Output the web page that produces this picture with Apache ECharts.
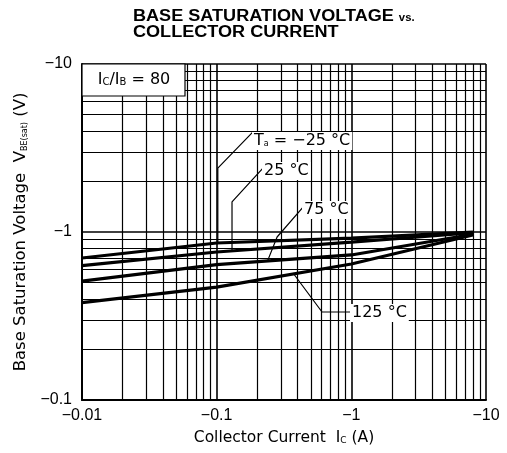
<!DOCTYPE html>
<html>
<head>
<meta charset="utf-8">
<script src="https://cdn.jsdelivr.net/npm/echarts@6/dist/echarts.min.js"></script>
<style>html,body{margin:0;padding:0;background:#fff}#c{width:507px;height:453px}</style>
</head>
<body>
<div id="c"></div>
<script>
// Collector current Ic (A) and base saturation voltage VBE(sat) (V)
const currentA = [-0.01, -0.1, -1, -8];
const vbeMinus25 = [-0.70, -0.86, -0.92, -1.00];
const vbe25 = [-0.63, -0.76, -0.87, -0.99];
const vbe75 = [-0.51, -0.64, -0.73, -0.97];
const vbe125 = [-0.38, -0.47, -0.645, -0.96];
const seriesNames = ['Ta = -25 °C', '25 °C', '75 °C', '125 °C'];
const xTickLabels = ['−0.01', '−0.1', '−1', '−10'];
const yTickLabels = ['−0.1', '−1', '−10'];

// annotation leader lines (data space, magnitudes)
const leaders = [
  [[0.186, 3.94], [0.102, 2.40], [0.102, 0.86]],
  [[0.225, 2.44], [0.130, 1.51], [0.130, 0.78]],
  [[0.453, 1.45], [0.281, 0.934], [0.240, 0.68]],
  [[0.369, 0.57], [0.606, 0.334], [0.978, 0.334]]
];

const FONT = '"Liberation Sans", Arial, sans-serif';
const WIDE = '"DejaVu Sans", sans-serif';
const toPts = (ys) => currentA.map((x, i) => [Math.abs(x), Math.abs(ys[i])]);
const allY = [vbeMinus25, vbe25, vbe75, vbe125];

const xMinor = [], yMinor = [];
[0.01, 0.1, 1].forEach(d => { for (let k = 2; k <= 9; k++) xMinor.push(+(k * d).toPrecision(3)); });
[0.1, 1].forEach(d => { for (let k = 2; k <= 9; k++) yMinor.push(+(k * d).toPrecision(3)); });

const fmtX = v => { const m = {0.01:0,0.1:1,1:2,10:3}; const i = m[+v.toPrecision(3)]; return i === undefined ? '' : xTickLabels[i]; };
const fmtY = v => { const m = {0.1:0,1:1,10:2}; const i = m[+v.toPrecision(3)]; return i === undefined ? '' : yTickLabels[i]; };

const series = [];
series.push({
  type: 'line', data: [], silent: true, z: 1,
  markLine: {
    silent: true, symbol: 'none', animation: false,
    label: { show: false },
    lineStyle: { color: '#000', width: 1.2, type: 'solid' },
    data: xMinor.map(v => ({ xAxis: v })).concat(yMinor.map(v => ({ yAxis: v })))
  }
});
allY.forEach((ys, i) => {
  series.push({
    name: seriesNames[i], type: 'line', data: toPts(ys), showSymbol: false, symbol: 'none',
    lineStyle: { color: '#000', width: 3.2 }, z: 5, animation: false
  });
});
leaders.forEach(l => {
  series.push({
    type: 'line', data: l, showSymbol: false, symbol: 'none', silent: true,
    lineStyle: { color: '#000', width: 1.2 }, z: 6, animation: false
  });
});

const chart = echarts.init(document.getElementById('c'), null, { renderer: 'canvas' });
chart.setOption({
  backgroundColor: '#fff',
  animation: false,
  textStyle: { fontFamily: FONT },
  grid: { left: 82, top: 64, right: 21, bottom: 53 },
  xAxis: {
    type: 'log', logBase: 10, min: 0.01, max: 10,
    name: 'Collector Current  I{s|C} (A)', nameLocation: 'middle', nameGap: 30,
    nameTextStyle: { fontFamily: WIDE, fontSize: 15.5, color: '#000',
      rich: { s: { fontFamily: WIDE, fontSize: 9, color: '#000', padding: [6, 0, 0, 0] } } },
    axisLine: { show: true, lineStyle: { color: '#000', width: 2 } },
    axisTick: { show: false },
    axisLabel: { formatter: fmtX, fontFamily: FONT, fontSize: 16, color: '#000', margin: 8 },
    splitLine: { show: true, lineStyle: { color: '#000', width: 1.6 } },
    minorTick: { show: false }, minorSplitLine: { show: false }
  },
  yAxis: {
    type: 'log', logBase: 10, min: 0.1, max: 10,
    name: 'Base Saturation Voltage  V{s|BE(sat)} (V)', nameLocation: 'middle', nameGap: 51, nameRotate: 90,
    nameTextStyle: { fontFamily: WIDE, fontSize: 16.5, color: '#000',
      rich: { s: { fontFamily: WIDE, fontSize: 8, color: '#000', padding: [7, 0, 0, 0] } } },
    axisLine: { show: true, lineStyle: { color: '#000', width: 2 } },
    axisTick: { show: false },
    axisLabel: { formatter: fmtY, fontFamily: FONT, fontSize: 16, color: '#000', margin: 10 },
    splitLine: { show: true, lineStyle: { color: '#000', width: 1.6 } },
    minorTick: { show: false }, minorSplitLine: { show: false }
  },
  series: series,
  graphic: [
    { type: 'text', z: 101, x: 133, y: 9, scaleX: 1.13, scaleY: 1,
      style: { text: 'BASE SATURATION VOLTAGE {s|vs.}\nCOLLECTOR CURRENT', fontFamily: FONT, fontSize: 16, fontWeight: 'bold',
        fill: '#000', lineHeight: 16,
        rich: { s: { fontFamily: FONT, fontSize: 10, fontWeight: 'bold', fill: '#000', padding: [3, 0, 0, 0] } } } },
    { type: 'rect', z: 100, shape: { x: 82, y: 64, width: 103, height: 32 },
      style: { fill: '#fff', stroke: '#000', lineWidth: 1.2 } },
    { type: 'text', z: 101, x: 134, y: 80,
      style: { text: 'I{s|C}/I{s|B} = 80', fontFamily: WIDE, fontSize: 16, fill: '#000', align: 'center', verticalAlign: 'middle',
        rich: { s: { fontFamily: WIDE, fontSize: 10, fill: '#000', padding: [5, 0, 0, 0] } } } },
    { type: 'text', z: 101, x: 252, y: 141,
      style: { text: 'T{s|a} = −25 °C', fontFamily: WIDE, fontSize: 16, fill: '#000', verticalAlign: 'middle',
        backgroundColor: '#fff', padding: [1, 2],
        rich: { s: { fontFamily: WIDE, fontSize: 8, fill: '#000', padding: [5, 0, 0, 0] } } } },
    { type: 'text', z: 101, x: 262, y: 171,
      style: { text: '25 °C', fontFamily: WIDE, fontSize: 16, fill: '#000', verticalAlign: 'middle', backgroundColor: '#fff', padding: [1, 2] } },
    { type: 'text', z: 101, x: 302, y: 210,
      style: { text: '75 °C', fontFamily: WIDE, fontSize: 16, fill: '#000', verticalAlign: 'middle', backgroundColor: '#fff', padding: [1, 2] } },
    { type: 'text', z: 101, x: 350, y: 313,
      style: { text: '125 °C', fontFamily: WIDE, fontSize: 16, fill: '#000', verticalAlign: 'middle', backgroundColor: '#fff', padding: [1, 2] } }
  ]
});
</script>
</body>
</html>
